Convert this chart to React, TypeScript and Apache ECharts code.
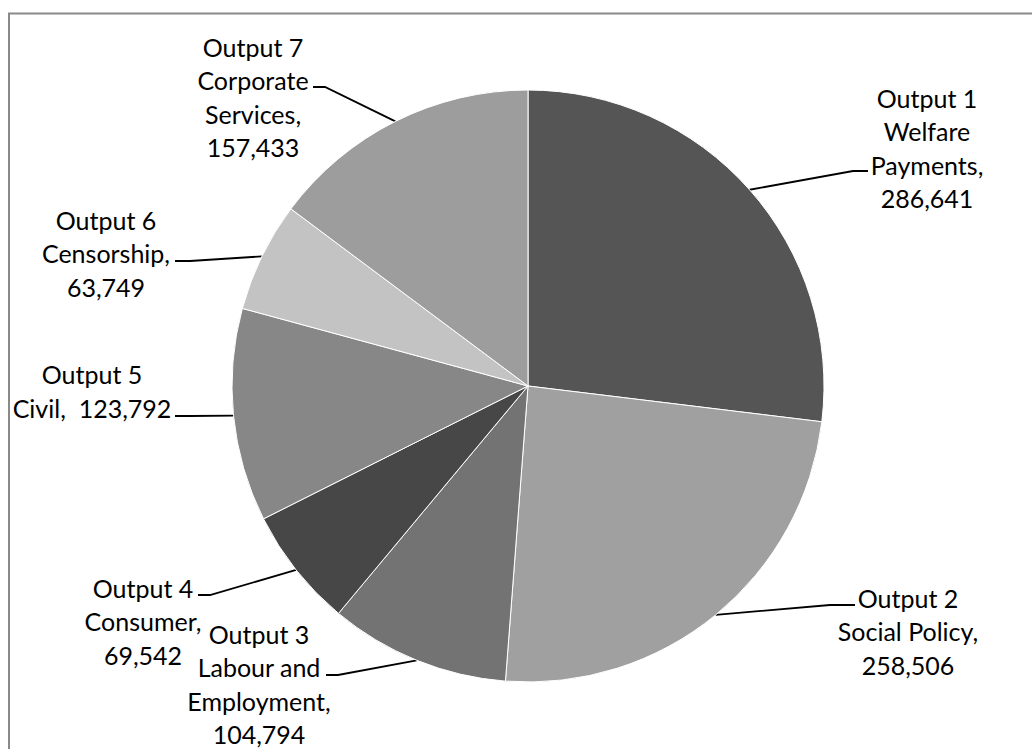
import React, { useEffect, useRef } from "react";
import * as echarts from "echarts";

const categories = [
  "Output 1\nWelfare\nPayments",
  "Output 2\nSocial Policy",
  "Output 3\nLabour and\nEmployment",
  "Output 4\nConsumer",
  "Output 5\nCivil",
  "Output 6\nCensorship",
  "Output 7\nCorporate\nServices",
];
const values = [286641, 258506, 104794, 69542, 123792, 63749, 157433];
const valueSeparators = ["\n", "\n", "\n", "\n", "  ", "\n", "\n"];
const colors = ["#555555", "#a0a0a0", "#737373", "#474747", "#878787", "#c3c3c3", "#9d9d9d"];

// label block centres and leader line bends (layout only)
const labelPos = [
  { x: 927, y: 148, bend: [853, 171], end: [868, 171] },
  { x: 908, y: 631, bend: [830, 605], end: [855, 605] },
  { x: 259, y: 684, bend: [338, 675], end: [326, 675] },
  { x: 143, y: 621, bend: [210, 595], end: [198, 595] },
  { x: 92, y: 391, bend: [190, 416], end: [175, 416] },
  { x: 106, y: 253, bend: [190, 261], end: [175, 261] },
  { x: 253, y: 97, bend: [325, 87], end: [313, 87] },
];

const fmt = (v: number) => v.toLocaleString("en-US");

export default function App() {
  const ref = useRef<HTMLDivElement>(null);
  useEffect(() => {
    if (!ref.current) return;
    const chart = echarts.init(ref.current, undefined, { renderer: "svg" });
    chart.setOption({
      animation: false,
      backgroundColor: "#ffffff",
      graphic: [
        {
          type: "rect",
          shape: { x: 9, y: 13.5, width: 1100, height: 800 },
          style: { fill: "none", stroke: "#8a8a8a", lineWidth: 2 },
          silent: true,
        },
      ],
      series: [
        {
          type: "pie",
          center: [528, 386],
          radius: [0, 296],
          startAngle: 90,
          clockwise: true,
          avoidLabelOverlap: false,
          itemStyle: { borderColor: "#ffffff", borderWidth: 1 },
          emphasis: { disabled: true },
          label: {
            show: true,
            position: "outside",
            fontFamily: "Lato",
            fontSize: 25,
            lineHeight: 33.5,
            color: "#000000",
            align: "center",
            formatter: (p: any) => `${p.name},${valueSeparators[p.dataIndex]}${fmt(p.value)}`,
          },
          labelLine: {
            show: true,
            lineStyle: { color: "#000000", width: 1.8 },
          },
          labelLayout: (params: any) => {
            const lp = labelPos[params.dataIndex];
            const pts = params.labelLinePoints;
            return {
              x: lp.x,
              y: lp.y,
              align: "center",
              verticalAlign: "middle",
              labelLinePoints: [pts ? pts[0] : lp.bend, lp.bend, lp.end],
            };
          },
          data: categories.map((name, i) => ({
            name,
            value: values[i],
            itemStyle: { color: colors[i] },
          })),
        },
      ],
    });
    return () => chart.dispose();
  }, []);
  return (
    <div
      ref={ref}
      style={{ position: "absolute", left: 0, top: 0, width: 1032, height: 749 }}
    />
  );
}
